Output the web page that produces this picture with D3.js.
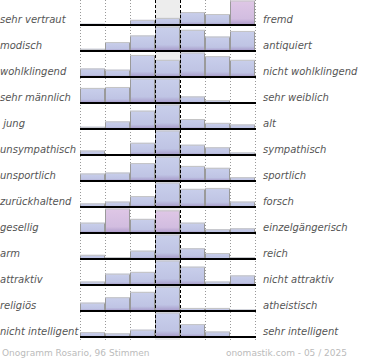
<!DOCTYPE html>
<html><head><meta charset="utf-8">
<script src="https://cdn.jsdelivr.net/npm/d3@7"></script>
<style>
html,body{margin:0;padding:0;background:#fff;}
svg{display:block;}
text{font-family:"DejaVu Sans",sans-serif;}
</style></head>
<body>
<svg id="chart" width="370" height="360"></svg>
<script>
// ---- data ----
const leftLabels = ["sehr vertraut","modisch","wohlklingend","sehr männlich"," jung","unsympathisch","unsportlich","zurückhaltend","gesellig","arm","attraktiv","religiös","nicht intelligent"];
const rightLabels = ["fremd","antiquiert","nicht wohlklingend","sehr weiblich","alt","sympathisch","sportlich","forsch","einzelgängerisch","reich","nicht attraktiv","atheistisch","sehr intelligent"];
const scaleSteps = [1,2,3,4,5,6,7];
// votes per step (of 96) for each pair
const votes = [
  [2,0,8,11,20,17,38],
  [2,8,14,22,19,13,18],
  [7,6,18,14,20,17,14],
  [16,17,26,26,7,3,1],
  [3,10,24,32,13,8,6],
  [7,0,19,38,16,12,4],
  [8,9,19,26,16,14,4],
  [4,6,12,27,20,21,6],
  [11,26,15,24,11,4,5],
  [7,3,14,41,18,10,3],
  [4,13,15,28,21,4,11],
  [11,18,25,32,4,4,2],
  [8,6,12,40,21,9,0]
];
// highlighted (pink) steps per row
const highlighted = [[7],[],[],[],[],[],[],[],[2,4],[],[],[],[]];
const footerLeft = "Onogramm Rosario, 96 Stimmen";
const footerRight = "onomastik.com - 05 / 2025";

// ---- drawing ----
const svg = d3.select("#chart");
const defs = svg.append("defs");
function grad(id, c0, c1, c2){
  const g = defs.append("linearGradient").attr("id", id).attr("x1",0).attr("y1",0).attr("x2",0).attr("y2",1);
  g.append("stop").attr("offset","0%").attr("stop-color",c0);
  g.append("stop").attr("offset","75%").attr("stop-color",c1);
  g.append("stop").attr("offset","100%").attr("stop-color",c2);
}
grad("gBlue","#c9cfeb","#bfc4e4","#a597c7");
grad("gPink","#dfc7e6","#d2bde0","#ab98c8");

const x = d3.scaleBand().domain(scaleSteps).range([80,255]).padding(0);
const y = d3.scaleBand().domain(d3.range(leftLabels.length)).range([-1,337]).padding(0);
const barMax = 24.5;
const yTop = 0, yBottom = 340;

// center column background
svg.append("rect").attr("x", x(4)).attr("y", yTop).attr("width", x.bandwidth()).attr("height", yBottom-yTop).attr("fill","#ededed");

// dotted grid lines
const bounds = scaleSteps.map(s => x(s)).concat([x(7)+x.bandwidth()]);
svg.selectAll("line.grid").data(bounds.filter(b => b !== x(4) && b !== x(5)))
  .enter().append("line").attr("class","grid")
  .attr("x1", d => d+0.5).attr("x2", d => d+0.5).attr("y1", yTop).attr("y2", yBottom)
  .attr("stroke","#999").attr("stroke-width",1).attr("stroke-dasharray","1,2");

// rows
leftLabels.forEach((lab, i) => {
  const base = y(i) + y.step();
  const h = d3.scaleLinear().domain([0, d3.max(votes[i])]).range([0, barMax]);
  const g = svg.append("g");
  const data = scaleSteps.map((s, j) => ({s, v: votes[i][j], hi: highlighted[i].includes(s)}));
  const nz = data.filter(d => d.v > 0);
  g.selectAll("rect.bar").data(nz).enter().append("rect")
    .attr("x", d => x(d.s)).attr("width", x.bandwidth())
    .attr("y", d => base - h(d.v)).attr("height", d => h(d.v))
    .attr("fill", d => d.hi ? "url(#gPink)" : "url(#gBlue)");
  g.selectAll("path.edge").data(nz).enter().append("path")
    .attr("d", d => {
      const x0 = x(d.s)+0.5, x1 = x(d.s)+x.bandwidth()-0.5, yt = base - h(d.v);
      return `M${x0},${base}V${yt+0.5}M${x1},${base}V${yt+0.5}`;
    })
    .attr("stroke","#9a9a9a").attr("fill","none").attr("stroke-width",1);
  g.selectAll("line.topedge").data(nz).enter().append("line")
    .attr("x1", d => x(d.s)).attr("x2", d => x(d.s)+x.bandwidth())
    .attr("y1", d => base - h(d.v)+0.5).attr("y2", d => base - h(d.v)+0.5)
    .attr("stroke","#c4c4c4").attr("stroke-width",1);
  g.append("line").attr("x1", 80).attr("x2", 256).attr("y1", base).attr("y2", base)
    .attr("stroke","#000").attr("stroke-width",1.8);
  svg.append("text").attr("x", 0).attr("y", base - 2).attr("font-size", 10).attr("font-style","italic")
    .attr("fill","#555").style("white-space","pre").text(lab);
  svg.append("text").attr("x", 263).attr("y", base - 2).attr("font-size", 10).attr("font-style","italic")
    .attr("fill","#555").text(rightLabels[i]);
});

// center dashed lines
svg.selectAll("line.center").data([x(4), x(5)]).enter().append("line")
  .attr("x1", d => d+0.5).attr("x2", d => d+0.5).attr("y1", yTop).attr("y2", yBottom)
  .attr("stroke","#000").attr("stroke-width",1).attr("stroke-dasharray","3,2");

// footer
svg.append("text").attr("x", 2).attr("y", 356).attr("font-size", 9).attr("fill","#bbb").text(footerLeft);
svg.append("text").attr("x", 347).attr("y", 356).attr("text-anchor","end").attr("font-size", 9).attr("fill","#bbb").text(footerRight);
</script>
</body></html>
